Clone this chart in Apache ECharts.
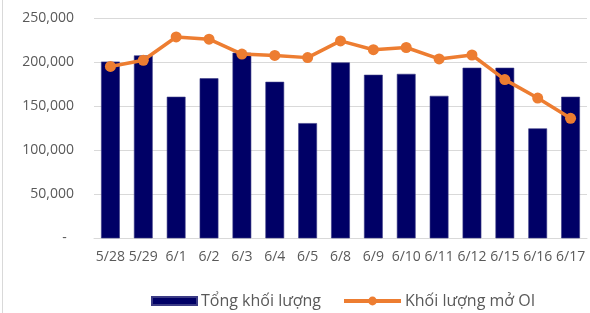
<!DOCTYPE html>
<html>
<head>
<meta charset="utf-8">
<script src="https://cdn.jsdelivr.net/npm/echarts@6/dist/echarts.min.js"></script>
<style>
html,body{margin:0;padding:0;background:#fff;}
#chart{width:590px;height:313px;}
</style>
</head>
<body>
<div id="chart"></div>
<script>
var dates = ['5/28','5/29','6/1','6/2','6/3','6/4','6/5','6/8','6/9','6/10','6/11','6/12','6/15','6/16','6/17'];
var volume = [201000,208000,161000,182000,211000,178000,131000,200000,186000,187000,162000,194000,194000,125000,161000];
var openInterest = [195500,202500,229000,226500,209500,208000,205500,224500,214500,217000,204000,208500,180500,159500,136500];
var yTicks = [0,50000,100000,150000,200000,250000];

var font = 'Open Sans';
var chart = echarts.init(document.getElementById('chart'));

var legendText = {color:'#595959',fontSize:16,fontFamily:font,padding:[0,0,0,-1]};

chart.setOption({
    backgroundColor:'#fff',
    animation:false,
    textStyle:{fontFamily:font},
    graphic:[{
        type:'line',
        shape:{x1:2.5,y1:0,x2:2.5,y2:313},
        style:{stroke:'#d9d9d9',lineWidth:1}
    }],
    grid:{left:94,right:3,top:18.5,bottom:74.7},
    legend:[
        {
            left:146,
            top:288,
            itemWidth:45,
            itemHeight:8,
            textStyle:legendText,
            data:[{name:'Tổng khối lượng',icon:'rect'}]
        },
        {
            left:337,
            top:288,
            itemWidth:57,
            itemHeight:11,
            textStyle:legendText,
            data:[{name:'Khối lượng mở OI',lineStyle:{width:4}}]
        }
    ],
    xAxis:{
        type:'category',
        data:dates,
        axisTick:{show:false},
        axisLine:{lineStyle:{color:'#d9d9d9',width:1}},
        axisLabel:{color:'#595959',fontSize:14,interval:0,margin:12}
    },
    yAxis:{
        type:'value',
        min:yTicks[0],
        max:yTicks[yTicks.length-1],
        interval:yTicks[1]-yTicks[0],
        axisLine:{show:false},
        axisTick:{show:false},
        splitLine:{lineStyle:{color:'#d9d9d9',width:1}},
        axisLabel:{
            color:'#595959',
            fontSize:14,
            margin:20,
            formatter:function(v){
                if(v===0) return '-  ';
                return v.toLocaleString('en-US');
            }
        }
    },
    series:[
        {
            name:'Tổng khối lượng',
            type:'bar',
            data:volume,
            barWidth:'57%',
            itemStyle:{color:'#000066',borderColor:'#3b3b85',borderWidth:0.6}
        },
        {
            name:'Khối lượng mở OI',
            type:'line',
            data:openInterest,
            symbol:'circle',
            symbolSize:11,
            lineStyle:{color:'#ED7D31',width:3.5},
            itemStyle:{color:'#ED7D31'}
        }
    ]
});
</script>
</body>
</html>
